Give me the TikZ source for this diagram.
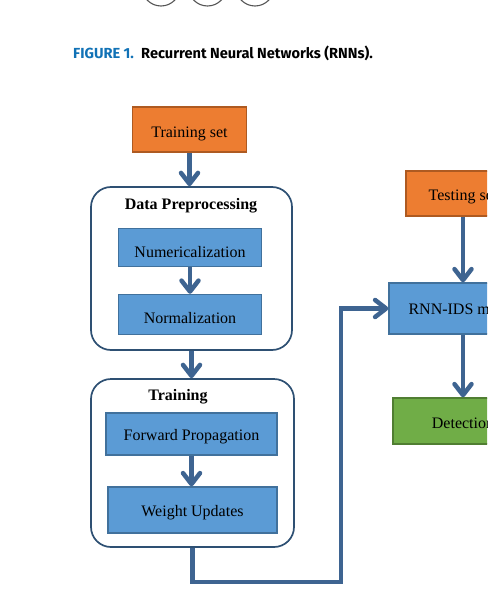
\documentclass[tikz,border=0pt]{standalone}
\usepackage{fontspec}
\setmainfont{Liberation Serif}
\newfontfamily\capfont{Fira Sans}
\usetikzlibrary{arrows.meta}
\definecolor{orfill}{HTML}{ED7D31}
\definecolor{ordraw}{HTML}{AE5A21}
\definecolor{blfill}{HTML}{5B9BD5}
\definecolor{bldraw}{HTML}{41719C}
\definecolor{grfill}{HTML}{70AD47}
\definecolor{grdraw}{HTML}{507E32}
\definecolor{arrcol}{HTML}{3E6491}
\definecolor{contcol}{HTML}{2E5073}
\definecolor{capblue}{HTML}{1172B6}
\definecolor{circcol}{HTML}{555555}
\tikzset{
  box/.style={rectangle, line width=1.3pt, inner sep=0pt, text depth=0pt, font=\fontsize{16}{19}\selectfont},
  orbox/.style={box, fill=orfill, draw=ordraw},
  blbox/.style={box, fill=blfill, draw=bldraw},
  grbox/.style={box, fill=grfill, draw=grdraw},
  container/.style={rectangle, draw=contcol, line width=1.7pt, rounded corners=20pt, inner sep=0pt, fill=white},
  titletext/.style={font=\bfseries\fontsize{16}{19}\selectfont, anchor=base, inner sep=0pt},
  flow/.style={draw=arrcol, line width=4.5pt, line join=miter, -{Straight Barb[length=11pt,width=17pt,round]}},
  dotcirc/.style={circle, draw=circcol, line width=1.1pt, minimum size=38pt, inner sep=0pt},
}
\begin{document}
\begin{tikzpicture}[x=1pt, y=-1pt]
\useasboundingbox (0,0) rectangle (487,591);
\clip (0,0) rectangle (487,591);
\fill[white] (0,0) rectangle (487,591);

% partial circles at the top
\node[dotcirc] (c1) at (161,-13) {};
\node[dotcirc] (c2) at (207.5,-13) {};
\node[dotcirc] (c3) at (255,-13) {};

% caption
\node[anchor=base west, inner sep=0pt] (caption) at (73,59)
  {\capfont\bfseries\fontsize{14.6}{17}\selectfont\textcolor{capblue}{FIGURE 1.}\hspace{0.5em}Recurrent Neural Networks (RNNs).};

% left column
\node[orbox, minimum width=114pt, minimum height=45pt, text height=15pt] (trainset) at (189.5,129.5) {Training set};
\node[container, minimum width=201pt, minimum height=163pt] (prep) at (191.5,268.5) {};
\node[titletext] (preptitle) at (191,209) {Data Preprocessing};
\node[blbox, minimum width=143pt, minimum height=38pt, text height=20.4pt] (num) at (190,247.5) {Numericalization};
\node[blbox, minimum width=143pt, minimum height=40pt, text height=17pt] (norm) at (190,314.5) {Normalization};

\node[container, minimum width=203pt, minimum height=168pt] (train) at (192.5,463) {};
\node[titletext] (traintitle) at (178,400) {Training};
\node[blbox, minimum width=171pt, minimum height=42pt, text height=12pt] (fwd) at (191.5,434) {Forward Propagation};
\node[blbox, minimum width=169pt, minimum height=46pt, text height=13.4pt] (wu) at (192.5,510) {Weight Updates};

% right column (cut off by the right edge, as in the reference)
\node[orbox, minimum width=114pt, minimum height=45pt, text height=13pt] (test) at (463,193.5) {Testing set};
\node[blbox, minimum width=148pt, minimum height=51pt, text height=11pt] (rnn) at (463,308.5) {RNN-IDS model};
\node[grbox, minimum width=140pt, minimum height=46pt, text height=14pt] (det) at (463,421) {Detection};

% connectors
\draw[flow] (trainset.south) -- (trainset.south |- prep.north);
\draw[flow] (num.south) -- (num.south |- norm.north);
\draw[flow] (prep.south) -- (prep.south |- train.north);
\draw[flow] (fwd.south) -- (fwd.south |- wu.north);
\draw[flow] (test.south) -- (rnn.north);
\draw[flow] (rnn.south) -- (det.north);
\coordinate (fbcorner) at (341,582);
\draw[flow] (train.south) |- (fbcorner) |- (rnn.west);
\end{tikzpicture}
\end{document}
